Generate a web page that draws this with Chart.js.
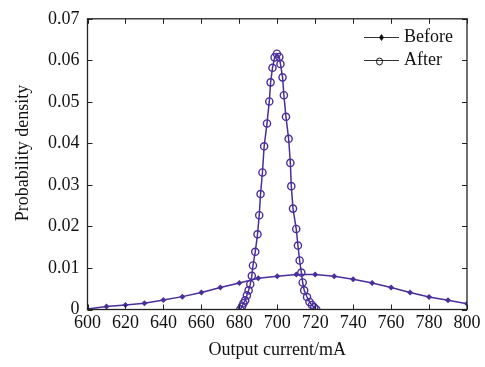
<!DOCTYPE html>
<html>
<head>
<meta charset="utf-8">
<script src="https://cdn.jsdelivr.net/npm/chart.js@4.4.1/dist/chart.umd.min.js"></script>
<style>
html,body{margin:0;padding:0;background:#ffffff;}
#wrap{width:485px;height:367px;position:relative;}
</style>
</head>
<body>
<div id="wrap"><canvas id="c" width="485" height="367"></canvas></div>
<script>
// ---- data ----
const beforeX = [600,610,620,630,640,650,660,670,680,690,700,710,720,730,740,750,760,770,780,790,800];
const beforeY = [0.0001,0.0007,0.0011,0.0015,0.0023,0.0031,0.0041,0.0053,0.0064,0.0075,0.0080,0.0084,0.0084,0.0080,0.0073,0.0064,0.0053,0.0041,0.0030,0.0022,0.0014];

const afterX = [680.5,681.4,682.2,683.1,684.0,684.9,685.8,686.6,687.2,688.4,689.6,690.5,691.2,692.2,693.1,694.6,695.8,696.5,697.5,698.6,699.8,701.1,701.7,702.8,703.5,704.6,706.0,706.9,707.4,708.3,710.0,710.9,711.8,712.7,713.4,714.2,715.7,717.0,718.3,719.5,720.6];
const afterY = [0.0000,0.0007,0.0015,0.0022,0.0034,0.0046,0.0061,0.0081,0.0106,0.0139,0.0181,0.0227,0.0278,0.0330,0.0393,0.0448,0.0501,0.0547,0.0582,0.0607,0.0616,0.0608,0.0591,0.0559,0.0516,0.0464,0.0411,0.0353,0.0297,0.0243,0.0194,0.0154,0.0118,0.0089,0.0065,0.0046,0.0030,0.0018,0.0011,0.0005,0.0000];

const seriesNames = ['Before','After'];
const xTitle = 'Output current/mA';
const yTitle = 'Probability density';
const xMin = 600, xMax = 800, xStep = 20;
const yMin = 0, yMax = 0.07, yStep = 0.01;

const lineColor = '#4a2e9c';
const FONT = '"Liberation Serif", "Times New Roman", serif';

const frame = {
  id: 'frame',
  afterDraw(chart) {
    const {ctx, chartArea: a, scales} = chart;
    ctx.save();
    ctx.strokeStyle = '#222';
    ctx.lineWidth = 1.3;
    ctx.strokeRect(a.left, a.top, a.right - a.left, a.bottom - a.top);
    ctx.lineWidth = 1;
    const L = 5;
    scales.x.ticks.forEach(t => {
      const px = Math.round(scales.x.getPixelForValue(t.value)) + 0.5;
      ctx.beginPath();
      ctx.moveTo(px, a.bottom); ctx.lineTo(px, a.bottom - L);
      ctx.moveTo(px, a.top); ctx.lineTo(px, a.top + L);
      ctx.stroke();
    });
    scales.y.ticks.forEach(t => {
      const py = Math.round(scales.y.getPixelForValue(t.value)) + 0.5;
      ctx.beginPath();
      ctx.moveTo(a.left, py); ctx.lineTo(a.left + L, py);
      ctx.moveTo(a.right, py); ctx.lineTo(a.right - L, py);
      ctx.stroke();
    });
    // y axis title
    ctx.save();
    ctx.font = '18px ' + FONT;
    ctx.fillStyle = '#111';
    ctx.textAlign = 'center';
    ctx.textBaseline = 'middle';
    ctx.translate(23, 153);
    ctx.rotate(-Math.PI / 2);
    ctx.fillText(yTitle, 0, 0);
    ctx.restore();
    // legend
    const ds = chart.data.datasets;
    const lx0 = 364, lx1 = 399, tx = 404;
    const rows = [37, 60];
    ctx.font = '18px ' + FONT;
    ctx.textBaseline = 'middle';
    ctx.fillStyle = '#111';
    ds.forEach((d, i) => {
      const y = rows[i];
      ctx.strokeStyle = '#333';
      ctx.lineWidth = 1;
      ctx.beginPath(); ctx.moveTo(lx0, y + 0.5); ctx.lineTo(lx1, y + 0.5); ctx.stroke();
      const mx = (lx0 + lx1) / 2;
      if (i === 0) {
        ctx.fillStyle = '#111';
        ctx.beginPath();
        ctx.moveTo(mx, y - 3); ctx.lineTo(mx + 2.5, y + 0.5); ctx.lineTo(mx, y + 4); ctx.lineTo(mx - 2.5, y + 0.5);
        ctx.closePath(); ctx.fill();
      } else {
        ctx.strokeStyle = '#111';
        ctx.beginPath(); ctx.ellipse(mx - 2, y + 1.5, 3, 3.5, 0, 0, Math.PI * 2); ctx.stroke();
      }
      ctx.fillStyle = '#111';
      ctx.fillText(d.label, tx, y);
    });
    ctx.restore();
  }
};

new Chart(document.getElementById('c'), {
  type: 'line',
  data: {
    datasets: [
      {
        label: seriesNames[0],
        data: beforeX.map((x, i) => ({x, y: beforeY[i]})),
        borderColor: lineColor,
        backgroundColor: lineColor,
        borderWidth: 1.5,
        pointStyle: 'rectRot',
        pointRadius: 3,
        pointBorderWidth: 0,
        pointBackgroundColor: lineColor,
        tension: 0
      },
      {
        label: seriesNames[1],
        data: afterX.map((x, i) => ({x, y: afterY[i]})),
        borderColor: lineColor,
        backgroundColor: 'rgba(0,0,0,0)',
        borderWidth: 1.5,
        pointStyle: 'circle',
        pointRadius: 3.6,
        pointBorderWidth: 1.4,
        pointBorderColor: lineColor,
        pointBackgroundColor: 'rgba(0,0,0,0)',
        tension: 0
      }
    ]
  },
  options: {
    responsive: false,
    animation: false,
    devicePixelRatio: 1,
    layout: {padding: {left: 0, top: 11, right: 18, bottom: 0}},
    plugins: {legend: {display: false}, tooltip: {enabled: false}},
    scales: {
      x: {
        type: 'linear', min: xMin, max: xMax,
        grid: {display: false, drawTicks: false},
        border: {display: false},
        ticks: {stepSize: xStep, color: '#111', font: {family: FONT, size: 18}, padding: 3, maxRotation: 0},
        title: {display: true, text: xTitle, color: '#111', font: {family: FONT, size: 18}, padding: {top: 0, bottom: 6}},
        afterFit(s) { s.height = 57.5; }
      },
      y: {
        min: yMin, max: yMax,
        grid: {display: false, drawTicks: false},
        border: {display: false},
        ticks: {stepSize: yStep, color: '#111', font: {family: FONT, size: 18}, padding: 8,
          callback: v => (Math.abs(v) < 1e-9 ? '0' : v.toFixed(2))},
        title: {display: false, text: yTitle},
        afterFit(s) { s.width = 87.5; }
      }
    }
  },
  plugins: [frame]
});
</script>
</body>
</html>
